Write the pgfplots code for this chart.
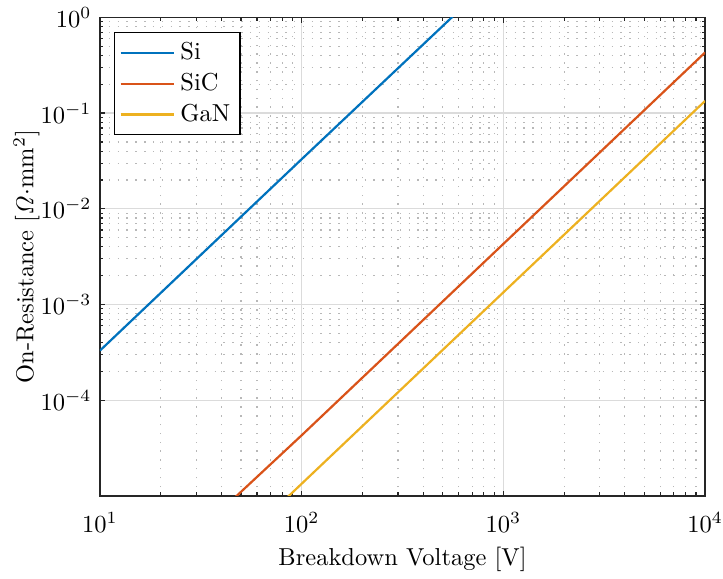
\documentclass[border=0pt]{standalone}
\usepackage{pgfplots}
\pgfplotsset{compat=1.18}
\usetikzlibrary{calc}
\definecolor{mSi}{RGB}{0,114,189}
\definecolor{mSiC}{RGB}{217,83,25}
\definecolor{mGaN}{RGB}{237,177,32}
\definecolor{axc}{RGB}{38,38,38}
\begin{document}
\begin{tikzpicture}
\begin{axis}[
  scale only axis,
  width=247pt, height=195.3pt,
  xmode=log, ymode=log,
  xmin=10, xmax=1e4, ymin=1e-5, ymax=1,
  xtick={10,100,1000,10000},
  ytick={1e-4,1e-3,1e-2,1e-1,1},
  grid=both,
  major grid style={line width=0.5pt, color=black!14},
  minor grid style={line width=0.5pt, color=black!28, dash pattern=on 0.6pt off 3pt},
  axis line style={line width=0.6pt, color=axc},
  tick align=inside,
  major tick length=2.2pt, minor tick length=1.4pt,
  every tick/.style={color=axc, line width=0.5pt},
  xticklabel style={inner sep=0pt, yshift=-6.5pt},
  yticklabel style={inner sep=0pt, xshift=-3.3pt},
  xlabel={Breakdown Voltage [V]},
  ylabel={On-Resistance [$\mathit{\Omega}\cdot$mm$^2$]},
  every axis x label/.style={at={(axis description cs:0.5,0)}, anchor=north, yshift=-20.8pt, inner sep=0pt},
  every axis y label/.style={at={(axis description cs:-0.1437,0.5)}, rotate=90, anchor=north, inner sep=0pt},
  legend style={at={(0,1)}, anchor=north west, xshift=5.7pt, yshift=-6pt,
    draw=black, line width=0.5pt, fill=white, inner xsep=2pt, inner ysep=2pt,
    row sep=0pt, cells={anchor=west}},
  legend image code/.code={\draw[#1] plot coordinates {(0pt,0pt) (22pt,0pt)};},
  legend cell align=left,
]
\addplot[mSi, line width=0.9pt] coordinates {(10,3.3e-4) (100,3.3e-2) (555,1.0) (600,1.19)};
\addlegendentry{Si}
\addplot[mSiC, line width=0.9pt] coordinates {(45,9.0e-6) (47.6,1.0e-5) (100,4.3e-5) (1000,4.3e-3) (10000,0.43)};
\addlegendentry{SiC}
\addplot[mGaN, line width=0.9pt] coordinates {(80,8.6e-6) (86.4,1.0e-5) (100,1.34e-5) (1000,1.34e-3) (10000,0.134)};
\addlegendentry{GaN}
\end{axis}
\pgfresetboundingbox
\path[use as bounding box] ($(current axis.south west)+(-40.8pt,-33.9pt)$) rectangle ($(current axis.north east)+(7.3pt,7.1pt)$);
\end{tikzpicture}
\end{document}
